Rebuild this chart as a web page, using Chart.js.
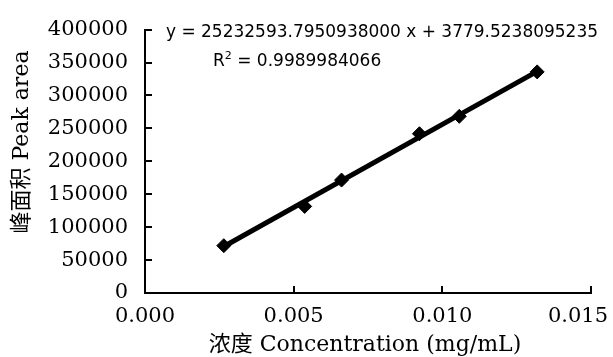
<!DOCTYPE html>
<html>
<head>
<meta charset="utf-8">
<script src="https://cdn.jsdelivr.net/npm/chart.js@4/dist/chart.umd.min.js"></script>
<style>
  html, body { margin: 0; padding: 0; background: #fff; }
  #wrap { width: 613px; height: 357px; }
</style>
</head>
<body>
<div id="wrap"><canvas id="calib" width="613" height="357"></canvas></div>
<script>
// Calibration data
const conc = [0.00265, 0.00537, 0.00661, 0.00923, 0.01057, 0.01319];
const area = [71900, 131500, 171500, 241900, 268300, 335800];

// Fit shown on the chart
const slope = 25232593.7950938;
const intercept = 3779.5238095235;
const eqText = 'y = 25232593.7950938000 x + 3779.5238095235';
const r2Text = '0.9989984066';

const xTickLabels = ['0.000', '0.005', '0.010', '0.015'];
const xTitle = '浓度 Concentration (mg/mL)';
const yTitle = '峰面积 Peak area';

const serif = '"DejaVu Serif", "Noto Sans CJK SC", serif';
const sans = '"DejaVu Sans", sans-serif';

const points = conc.map((c, i) => ({ x: c, y: area[i] }));
const first = conc[0], last = conc[conc.length - 1];
const fitLine = [
  { x: first, y: slope * first + intercept },
  { x: last, y: slope * last + intercept }
];

// inward ticks, x labels, titles and the equation
const extras = {
  id: 'extras',
  afterDraw(chart) {
    const ctx = chart.ctx;
    const a = chart.chartArea;
    const xs = chart.scales.x, ys = chart.scales.y;
    ctx.save();
    ctx.strokeStyle = '#000';
    ctx.lineWidth = 2;
    ys.ticks.forEach(t => {
      const py = Math.round(ys.getPixelForValue(t.value));
      ctx.beginPath();
      ctx.moveTo(a.left, py);
      ctx.lineTo(a.left + 7, py);
      ctx.stroke();
    });
    xs.ticks.forEach(t => {
      const px = Math.round(xs.getPixelForValue(t.value));
      ctx.beginPath();
      ctx.moveTo(px, a.bottom);
      ctx.lineTo(px, a.bottom - 7);
      ctx.stroke();
    });

    ctx.fillStyle = '#000';
    ctx.font = '21px ' + serif;
    ctx.textBaseline = 'middle';
    ctx.textAlign = 'center';
    xs.ticks.forEach((t, i) => {
      let px = xs.getPixelForValue(t.value);
      const w = ctx.measureText(xTickLabels[i]).width;
      if (px + w / 2 > chart.width - 5) px = chart.width - 5 - w / 2;
      ctx.fillText(xTickLabels[i], px, a.bottom + 24);
    });

    ctx.font = '22px ' + serif;
    ctx.fillText(xTitle, (a.left + a.right) / 2 - 3, 345);

    ctx.save();
    ctx.translate(22, 142);
    ctx.rotate(-Math.PI / 2);
    ctx.fillText(yTitle, 0, 0);
    ctx.restore();

    ctx.textAlign = 'left';
    ctx.font = '17px ' + sans;
    ctx.fillText(eqText, 166, 33, 432);
    ctx.fillText('R', 213, 62);
    const rw = ctx.measureText('R').width;
    ctx.font = '11px ' + sans;
    ctx.fillText('2', 213 + rw, 56);
    ctx.font = '17px ' + sans;
    ctx.fillText(' = ' + r2Text, 213 + rw + 7, 62);
    ctx.restore();
  }
};

new Chart(document.getElementById('calib'), {
  type: 'scatter',
  data: {
    datasets: [
      {
        data: fitLine,
        showLine: true,
        borderColor: '#000',
        borderWidth: 5,
        pointRadius: 0,
        fill: false
      },
      {
        data: points,
        pointStyle: 'rectRot',
        pointRadius: 7,
        backgroundColor: '#000',
        borderColor: '#000',
        borderWidth: 1
      }
    ]
  },
  options: {
    responsive: false,
    animation: false,
    layout: { padding: { top: 20, right: 22, left: 0, bottom: 0 } },
    plugins: { legend: { display: false }, tooltip: { enabled: false } },
    scales: {
      x: {
        type: 'linear',
        min: 0,
        max: 0.015,
        ticks: { stepSize: 0.005, display: false },
        grid: { display: false, drawTicks: false },
        border: { display: true, color: '#000', width: 2 },
        afterFit(s) { s.height = 64; s.paddingLeft = 0; s.paddingRight = 0; }
      },
      y: {
        min: 0,
        max: 400000,
        ticks: {
          stepSize: 50000,
          padding: 17,
          color: '#000',
          font: { family: serif, size: 21 },
          callback: v => String(v)
        },
        grid: { display: false, drawTicks: false },
        border: { display: true, color: '#000', width: 2 },
        afterFit(s) { s.width = 145; }
      }
    }
  },
  plugins: [extras]
});
</script>
</body>
</html>
